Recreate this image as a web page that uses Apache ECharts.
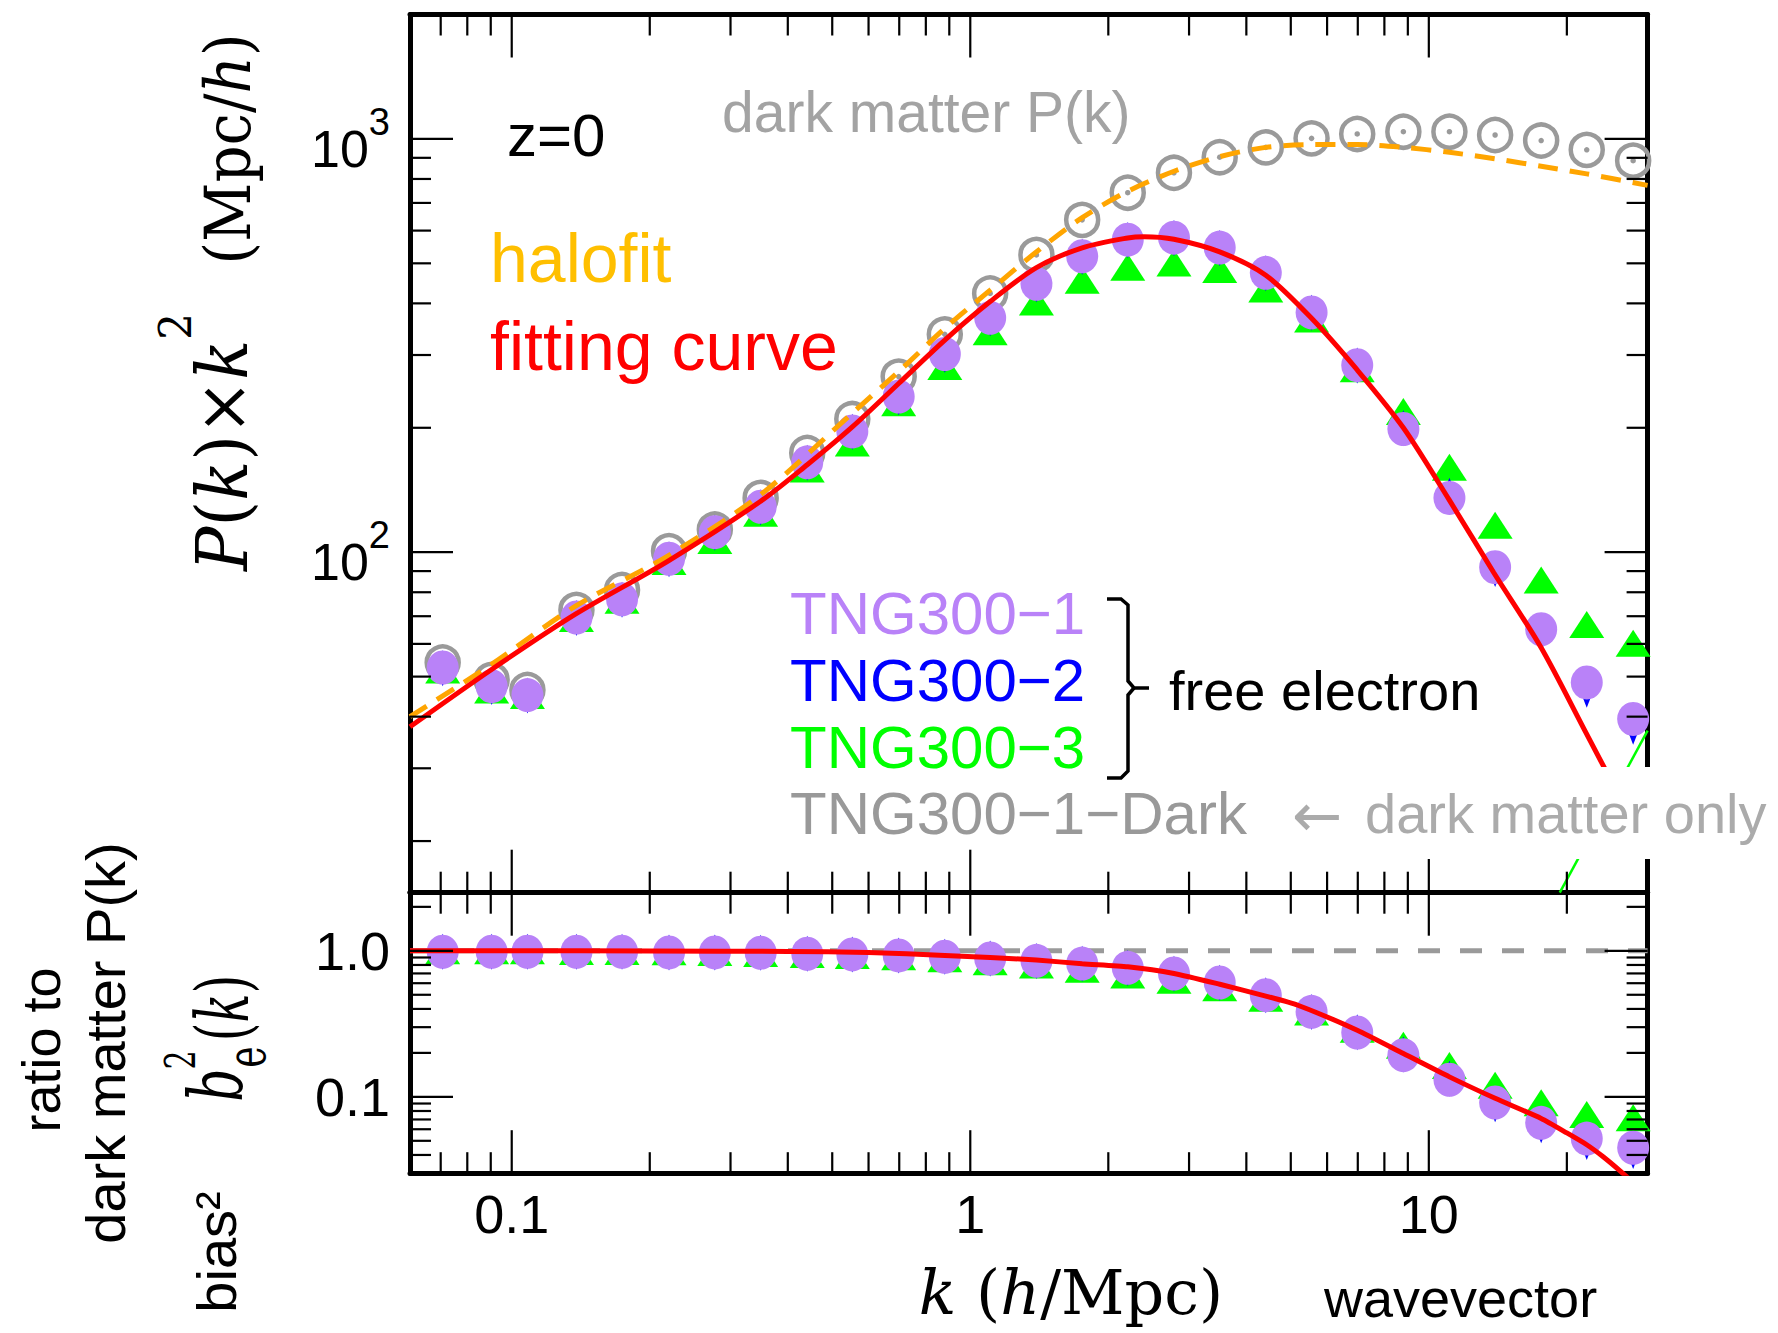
<!DOCTYPE html>
<html><head><meta charset="utf-8">
<script src="https://cdn.jsdelivr.net/npm/echarts@6/dist/echarts.min.js"></script>
<style>html,body{margin:0;padding:0;background:#fff}#c{width:1778px;height:1333px}</style>
</head><body><div id="c"></div>
<script>
// ---------- data ----------
const kValues = [0.0707, 0.0904, 0.1082, 0.1384, 0.174, 0.2203, 0.2773, 0.349, 0.441, 0.553, 0.698, 0.880, 1.105, 1.394, 1.754, 2.205, 2.781, 3.499, 4.41, 5.55, 6.98, 8.80, 11.09, 13.95, 17.58, 22.1, 27.9];
const pDark = [54.1, 49.1, 46.4, 72.5, 81.0, 100.6, 113.5, 135.3, 173.8, 210, 266, 336.6, 422.7, 524, 637, 741, 828, 903, 954, 1003, 1028, 1041, 1041, 1022, 991, 941, 886];
const pTNG1 = [52.6, 47.4, 45.1, 69.5, 76.9, 96.4, 111.8, 128.8, 165, 196, 238, 301.7, 369.1, 446, 520, 570.5, 576.9, 545.8, 474.1, 380.4, 283.5, 198.6, 135.3, 92, 65.1, 48.4, 39.5];
const pTNG2 = [52.4, 47.2, 45.0, 69.3, 76.7, 96.2, 111.5, 128.5, 164.5, 195.5, 237, 300.5, 368, 445, 519, 569, 575.5, 544.5, 473, 379.5, 283, 199.5, 137, 91, 63.5, 46.5, 37.8];
const pTNG3 = [51.9, 46.4, 45.0, 69.1, 76.5, 95, 106.8, 124.3, 159, 183.8, 229.8, 281.2, 341.6, 402.8, 455, 489.3, 501, 483, 433.5, 366.8, 278, 219, 160.6, 116.2, 85.6, 66.8, 60.2];

const halofitK = [0.06, 0.0894, 0.1377, 0.2192, 0.349, 0.553, 0.698, 0.88, 1.105, 1.393, 1.754, 2.205, 2.781, 3.5, 4.41, 5.55, 6.98, 8.8, 11.09, 13.95, 17.58, 22.1, 30];
const halofitP = [40, 53.1, 74, 98, 137.8, 217, 273.5, 348, 430.5, 532.6, 645, 747, 835, 906, 954, 969, 969, 954, 928, 895, 859, 823, 772];

const fitK = [0.06, 0.0894, 0.1377, 0.2192, 0.349, 0.441, 0.553, 0.698, 0.88, 1.105, 1.394, 1.754, 2.205, 2.392, 2.781, 3.5, 4.41, 5.55, 6.98, 8.8, 11.07, 13.86, 17.57, 21.98, 30];
const fitP = [37.8, 51.6, 70.8, 95.2, 132.8, 162.8, 201, 256, 326, 404, 488, 545, 576, 580, 572, 533, 468, 368, 276, 200, 134, 89.2, 58.8, 36.7, 19];

const greenLineK = [19.3, 30];
const greenLineP = [15, 37];

const ratioTNG1 = [0.985, 0.985, 0.985, 0.985, 0.985, 0.975, 0.975, 0.97, 0.955, 0.945, 0.93, 0.91, 0.886, 0.854, 0.818, 0.765, 0.699, 0.607, 0.497, 0.382, 0.276, 0.193, 0.131, 0.0914, 0.0664, 0.0518, 0.0448];
const ratioTNG2 = [0.985, 0.985, 0.985, 0.985, 0.985, 0.975, 0.975, 0.97, 0.955, 0.945, 0.93, 0.91, 0.885, 0.852, 0.816, 0.763, 0.697, 0.605, 0.496, 0.381, 0.277, 0.195, 0.133, 0.089, 0.064, 0.049, 0.0425];
const ratioTNG3 = [1.0, 1.0, 1.0, 0.99, 0.99, 0.985, 0.975, 0.96, 0.945, 0.929, 0.911, 0.883, 0.842, 0.80, 0.747, 0.683, 0.628, 0.559, 0.473, 0.381, 0.29, 0.226, 0.164, 0.120, 0.0912, 0.0757, 0.0719];

const ratioFitK = [0.06, 0.1, 0.2, 0.4, 0.6, 0.88, 1.105, 1.394, 1.754, 2.205, 2.781, 3.5, 4.41, 5.18, 6.98, 8.8, 11.09, 13.95, 17.58, 20.0, 22.1, 24.0, 26.2, 28];
const ratioFitR = [1.0, 1.0, 0.998, 0.99, 0.975, 0.93, 0.9, 0.865, 0.815, 0.777, 0.70, 0.59, 0.49, 0.424, 0.286, 0.198, 0.137, 0.0977, 0.0711, 0.0566, 0.0470, 0.0389, 0.0309, 0.0256];

const unityK = [0.06, 30];
const unityR = [1, 1];

// axis ranges and tick values
const xMin = 0.06, xMax = 30;
const yTopMin = 15, yTopMax = 2000;
const yBotMin = 0.03, yBotMax = 2.5;
const xMajorTicks = [0.1, 1, 10];
const xMinorTicks = [0.07, 0.08, 0.09, 0.2, 0.3, 0.4, 0.5, 0.6, 0.7, 0.8, 0.9, 2, 3, 4, 5, 6, 7, 8, 9, 20];
const yTopMajorTicks = [100, 1000];
const yTopMinorTicks = [20, 30, 40, 50, 60, 70, 80, 90, 200, 300, 400, 500, 600, 700, 800, 900];
const yBotMajorTicks = [0.1, 1];
const yBotMinorTicks = [0.04, 0.05, 0.06, 0.07, 0.08, 0.09, 0.2, 0.3, 0.4, 0.5, 0.6, 0.7, 0.8, 0.9, 2];

// ---------- styling ----------
const SANS = "'Liberation Sans', Arial, Helvetica, sans-serif";
const SERIF = "'DejaVu Serif', 'Liberation Serif', serif";
const PURPLE = '#b982f8', BLUE = '#0000ff', GREEN = '#00ff00', GRAY = '#9a9a9a';

const pairs = (xs, ys) => xs.map((x, i) => [x, ys[i]]);

function tickData(yRef, xRef, yMaj, yMin) {
  const d = [];
  xMinorTicks.forEach(v => d.push([v, yRef, 0, 0]));
  xMajorTicks.forEach(v => d.push([v, yRef, 0, 1]));
  yMin.forEach(v => d.push([xRef, v, 1, 0]));
  yMaj.forEach(v => d.push([xRef, v, 1, 1]));
  return d;
}
function renderTick(params, api) {
  const cs = params.coordSys;
  const isY = api.value(2), major = api.value(3);
  const len = major ? 43 : 21;
  const p = api.coord([api.value(0), api.value(1)]);
  const st = () => ({ stroke: '#000', lineWidth: 2.2 });
  if (!isY) {
    const x = p[0];
    return { type: 'group', children: [
      { type: 'line', shape: { x1: x, y1: cs.y, x2: x, y2: cs.y + len }, style: st() },
      { type: 'line', shape: { x1: x, y1: cs.y + cs.height, x2: x, y2: cs.y + cs.height - len }, style: st() }
    ]};
  }
  const y = p[1];
  return { type: 'group', children: [
    { type: 'line', shape: { x1: cs.x, y1: y, x2: cs.x + len, y2: y }, style: st() },
    { type: 'line', shape: { x1: cs.x + cs.width, y1: y, x2: cs.x + cs.width - len, y2: y }, style: st() }
  ]};
}

const isDecade = v => Math.abs(Math.log10(v) - Math.round(Math.log10(v))) < 1e-6;
const baseAxis = (extra) => Object.assign({
  type: 'log', logBase: 10,
  axisLine: { show: true, onZero: false, lineStyle: { color: '#000', width: 5 } },
  axisTick: { show: false }, minorTick: { show: false },
  splitLine: { show: false }, minorSplitLine: { show: false },
  axisLabel: { show: false }
}, extra);

const grid0 = { left: 410, top: 14.5, width: 1237.6, height: 878.2 };
const grid1 = { left: 410, top: 892.7, width: 1237.6, height: 280.5 };

const option = {
  animation: false,
  backgroundColor: '#fff',
  grid: [grid0, grid1],
  xAxis: [
    baseAxis({ gridIndex: 0, position: 'bottom', min: xMin, max: xMax }),
    baseAxis({ gridIndex: 0, position: 'top', min: xMin, max: xMax }),
    baseAxis({ gridIndex: 1, position: 'bottom', min: xMin, max: xMax,
      axisLabel: { show: true, margin: 14, fontSize: 54, fontFamily: SANS, color: '#000',
        formatter: v => { if (!isDecade(v)) return ''; const e = Math.round(Math.log10(v)); return e < 0 ? Math.pow(10, e).toFixed(-e) : String(Math.pow(10, e)); } } }),
    baseAxis({ gridIndex: 1, position: 'top', min: xMin, max: xMax })
  ],
  yAxis: [
    baseAxis({ gridIndex: 0, position: 'left', min: yTopMin, max: yTopMax,
      axisLabel: { show: true, margin: 20, fontSize: 52, fontFamily: SANS, color: '#000',
        formatter: v => isDecade(v) ? '{b|10}{s|' + Math.round(Math.log10(v)) + '}' : '',
        rich: {
          b: { fontSize: 52, fontFamily: SANS, color: '#000', padding: [20, 0, 0, 0] },
          s: { fontSize: 38, fontFamily: SANS, color: '#000', verticalAlign: 'top' }
        } } }),
    baseAxis({ gridIndex: 0, position: 'right', min: yTopMin, max: yTopMax }),
    baseAxis({ gridIndex: 1, position: 'left', min: yBotMin, max: yBotMax,
      axisLabel: { show: true, margin: 20, fontSize: 54, fontFamily: SANS, color: '#000',
        formatter: v => { if (!isDecade(v)) return ''; const e = Math.round(Math.log10(v)); return e === 0 ? '1.0' : Math.pow(10, e).toFixed(-e); } } }),
    baseAxis({ gridIndex: 1, position: 'right', min: yBotMin, max: yBotMax })
  ],
  series: [
    // ticks
    { type: 'custom', xAxisIndex: 0, yAxisIndex: 0, z: 7, silent: true, renderItem: renderTick,
      data: tickData(yTopMin, xMin, yTopMajorTicks, yTopMinorTicks) },
    { type: 'custom', xAxisIndex: 2, yAxisIndex: 2, z: 7, silent: true, renderItem: renderTick,
      data: tickData(yBotMin, xMin, yBotMajorTicks, yBotMinorTicks) },
    // ---- top panel ----
    { name: 'TNG300-1-Dark', type: 'scatter', xAxisIndex: 0, yAxisIndex: 0, z: 2,
      symbol: 'circle', symbolSize: 32,
      itemStyle: { color: 'rgba(255,255,255,0)', borderColor: GRAY, borderWidth: 4.5, opacity: 1 },
      data: pairs(kValues, pDark) },
    { name: 'TNG300-1-Dark centre', type: 'scatter', xAxisIndex: 0, yAxisIndex: 0, z: 2,
      symbol: 'circle', symbolSize: 5.5, itemStyle: { color: GRAY, opacity: 1 },
      data: pairs(kValues, pDark) },
    { name: 'TNG300-3', type: 'scatter', xAxisIndex: 0, yAxisIndex: 0, z: 3,
      symbol: 'triangle', symbolSize: [35, 27], itemStyle: { color: GREEN, opacity: 1 },
      data: pairs(kValues, pTNG3) },
    { name: 'TNG300-2', type: 'scatter', xAxisIndex: 0, yAxisIndex: 0, z: 3,
      symbol: 'diamond', symbolSize: [14, 36], itemStyle: { color: BLUE, opacity: 1 },
      data: pairs(kValues, pTNG2) },
    { name: 'TNG300-1', type: 'scatter', xAxisIndex: 0, yAxisIndex: 0, z: 4,
      symbol: 'circle', symbolSize: [32, 34], itemStyle: { color: PURPLE, opacity: 1 },
      data: pairs(kValues, pTNG1) },
    { name: 'halofit', type: 'line', xAxisIndex: 0, yAxisIndex: 0, z: 5, smooth: 0.3,
      showSymbol: false, lineStyle: { color: '#ffa500', width: 5, type: [20, 12] },
      data: pairs(halofitK, halofitP) },
    { name: 'fitting curve', type: 'line', xAxisIndex: 0, yAxisIndex: 0, z: 6, smooth: 0.3,
      showSymbol: false, lineStyle: { color: '#ff0000', width: 5 },
      data: pairs(fitK, fitP) },
    { name: 'TNG300-3 line', type: 'line', xAxisIndex: 0, yAxisIndex: 0, z: 5,
      showSymbol: false, lineStyle: { color: GREEN, width: 2.5 },
      data: pairs(greenLineK, greenLineP) },
    // ---- bottom panel ----
    { name: 'unity', type: 'line', xAxisIndex: 2, yAxisIndex: 2, z: 2, showSymbol: false,
      lineStyle: { color: GRAY, width: 5, type: [22, 20] }, data: pairs(unityK, unityR) },
    { name: 'ratio TNG300-3', type: 'scatter', xAxisIndex: 2, yAxisIndex: 2, z: 3,
      symbol: 'triangle', symbolSize: [35, 27], itemStyle: { color: GREEN, opacity: 1 },
      data: pairs(kValues, ratioTNG3) },
    { name: 'ratio TNG300-2', type: 'scatter', xAxisIndex: 2, yAxisIndex: 2, z: 3,
      symbol: 'diamond', symbolSize: [14, 36], itemStyle: { color: BLUE, opacity: 1 },
      data: pairs(kValues, ratioTNG2) },
    { name: 'ratio TNG300-1', type: 'scatter', xAxisIndex: 2, yAxisIndex: 2, z: 4,
      symbol: 'circle', symbolSize: [32, 34], itemStyle: { color: PURPLE, opacity: 1 },
      data: pairs(kValues, ratioTNG1) },
    { name: 'ratio fit', type: 'line', xAxisIndex: 2, yAxisIndex: 2, z: 6, smooth: 0.2,
      showSymbol: false, lineStyle: { color: '#ff0000', width: 5 },
      data: pairs(ratioFitK, ratioFitR) }
  ],
  graphic: []
};

function txt(x, y, text, size, color, o) {
  o = o || {};
  return { type: 'text', x: x, y: y, z: 110, rotation: o.rot || 0, silent: true,
    scaleX: 1, scaleY: o.sy || 1,
    style: { text: text, fontSize: size, fontFamily: o.font || SANS, fontStyle: o.italic ? 'italic' : 'normal',
      fill: color, textAlign: o.align || 'left', align: o.align || 'left',
      textVerticalAlign: 'middle', verticalAlign: 'middle', rich: o.rich } };
}
const R = Math.PI / 2;
const g = option.graphic;
// white background behind the "dark matter only" note
g.push({ type: 'rect', z: 100, silent: true, shape: { x: 1283, y: 767, width: 495, height: 92 }, style: { fill: '#fff' } });
// in-plot annotations
g.push(txt(507, 135, 'z=0', 60, '#000'));
g.push(txt(722, 112, 'dark matter P(k)', 57, '#a3a3a3'));
g.push(txt(490, 258, 'halofit', 68, '#ffbf00'));
g.push(txt(490, 346, 'fitting curve', 68, '#ff0000'));
g.push(txt(790, 613, 'TNG300\u22121', 60, PURPLE));
g.push(txt(790, 680, 'TNG300\u22122', 60, BLUE));
g.push(txt(790, 747, 'TNG300\u22123', 60, GREEN));
g.push(txt(790, 813, 'TNG300\u22121\u2212Dark', 60, '#999999'));
g.push(txt(1292, 815, '\u2190', 60, '#ababab', { font: "'DejaVu Sans', sans-serif" }));
g.push(txt(1365, 813, 'dark matter only', 56, '#ababab'));
g.push(txt(1169, 690, 'free electron', 56, '#000'));
// brace
g.push({ type: 'polyline', z: 110, silent: true, shape: { points: [[1107, 599], [1121, 599], [1128, 605], [1128, 681], [1134, 688], [1149, 688]] }, style: { stroke: '#000', lineWidth: 3.5, fill: null } });
g.push({ type: 'polyline', z: 110, silent: true, shape: { points: [[1134, 688], [1128, 695], [1128, 771], [1121, 778], [1107, 778]] }, style: { stroke: '#000', lineWidth: 3.5, fill: null } });
// y title, top panel
g.push(txt(222, 442, '{i|P}{r|(}{i|k}{r|)\u00d7}{i|k}{s|2}', 66, '#000', { rot: R, align: 'center', font: SERIF, sy: 1.08,
  rich: {
    i: { fontFamily: SERIF, fontStyle: 'italic', fontSize: 66, lineHeight: 130, fill: '#000', color: '#000' },
    r: { fontFamily: SERIF, fontSize: 66, lineHeight: 130, fill: '#000', color: '#000' },
    s: { fontFamily: SERIF, fontSize: 42, lineHeight: 40, verticalAlign: 'top', fill: '#000', color: '#000' }
  } }));
g.push(txt(228, 149, '{r|(Mpc/}{i|h}{r|)}', 58, '#000', { rot: R, align: 'center', font: SERIF, sy: 1.08,
  rich: {
    i: { fontFamily: SERIF, fontStyle: 'italic', fontSize: 58, fill: '#000', color: '#000' },
    r: { fontFamily: SERIF, fontSize: 58, fill: '#000', color: '#000' }
  } }));
// y titles, bottom panel
g.push(txt(41, 1050, 'ratio to', 54, '#000', { rot: R, align: 'center' }));
g.push(txt(105, 1043, 'dark matter P(k)', 56, '#000', { rot: R, align: 'center' }));
g.push(txt(216, 1252, 'bias\u00b2', 56, '#000', { rot: R, align: 'center' }));
g.push(txt(216, 1085, 'b', 52, '#000', { rot: R, align: 'center', font: SERIF, italic: true, sy: 1.45 }));
g.push(txt(181, 1060, '2', 30, '#000', { rot: R, align: 'center', font: SERIF, sy: 1.4 }));
g.push(txt(246, 1057, 'e', 36, '#000', { rot: R, align: 'center', font: SERIF, sy: 1.5 }));
g.push(txt(223, 1008, '{r|(}{i|k}{r|)}', 48, '#000', { rot: R, align: 'center', font: SERIF, sy: 1.5,
  rich: {
    i: { fontFamily: SERIF, fontStyle: 'italic', fontSize: 48, fill: '#000', color: '#000' },
    r: { fontFamily: SERIF, fontSize: 48, fill: '#000', color: '#000' }
  } }));
// x title
g.push(txt(1071, 1292, '{i|k}{r| (}{i|h}{r|/Mpc)}', 62, '#000', { align: 'center', font: SERIF,
  rich: {
    i: { fontFamily: SERIF, fontStyle: 'italic', fontSize: 62, fill: '#000', color: '#000' },
    r: { fontFamily: SERIF, fontSize: 62, fill: '#000', color: '#000' }
  } }));
g.push(txt(1324, 1298, 'wavevector', 54, '#000'));

const chart = echarts.init(document.getElementById('c'), null, { renderer: 'svg', width: 1778, height: 1333 });
chart.setOption(option);
</script>
</body></html>
